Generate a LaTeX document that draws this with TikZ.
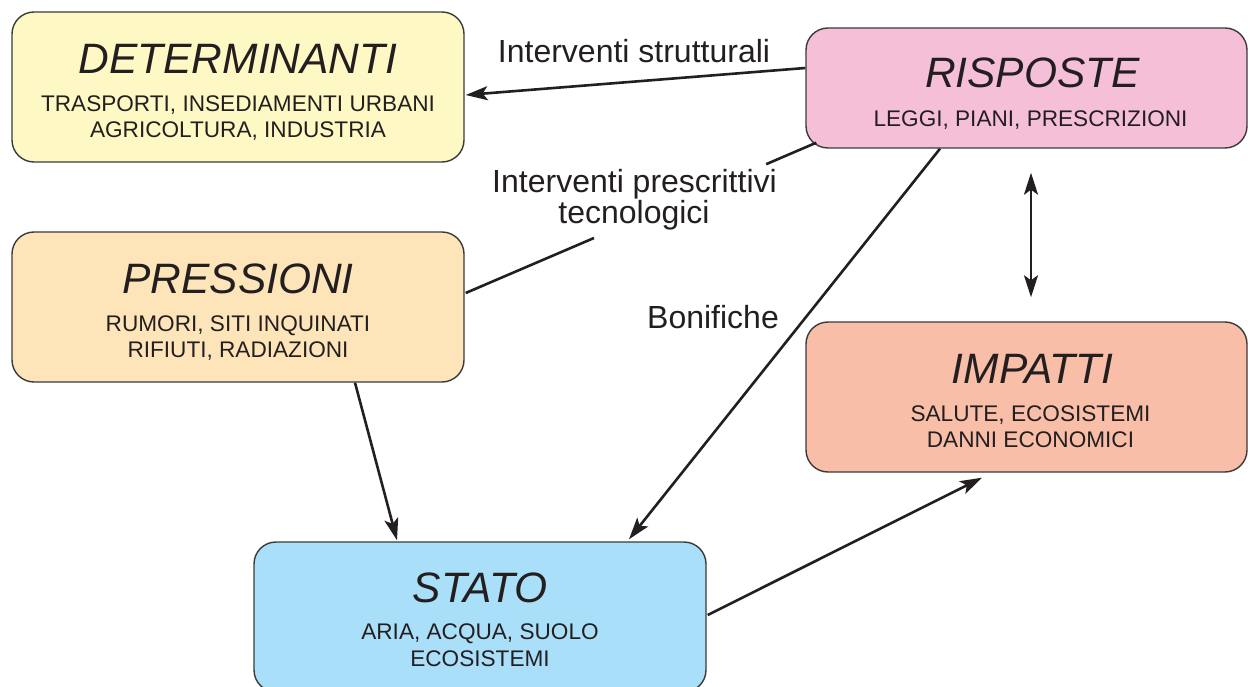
\documentclass[tikz,border=0pt]{standalone}
\usepackage{fontspec}
\setmainfont{Liberation Sans}
\usetikzlibrary{arrows.meta,calc}
\definecolor{ink}{HTML}{231F20}
\definecolor{boxline}{HTML}{3A3A3A}
\definecolor{cdet}{HTML}{FEF9C4}
\definecolor{cpre}{HTML}{FDE5B9}
\definecolor{cris}{HTML}{F6BFD8}
\definecolor{cimp}{HTML}{F8BEA7}
\definecolor{csta}{HTML}{AADFF9}
\begin{document}
\begin{tikzpicture}[x=1pt,y=-1pt,
 box/.style={draw=boxline, line width=1.4pt, rounded corners=22pt, minimum width=452pt, minimum height=150pt, inner sep=0pt},
 ttl/.style={font=\fontsize{42.5}{42.5}\selectfont\itshape, text=ink, anchor=base, inner sep=0pt},
 sub/.style={font=\fontsize{22.6}{22.6}\selectfont, text=ink, anchor=base, inner sep=0pt},
 lbl/.style={font=\fontsize{32}{32}\selectfont, text=ink, anchor=base, inner sep=0pt},
 conn/.style={draw=ink, line width=2.6pt},
 arr/.style={conn, -{Stealth[length=22pt,width=14pt,inset=5pt]}},
 darr/.style={conn, {Stealth[length=22pt,width=14pt,inset=5pt]}-{Stealth[length=22pt,width=14pt,inset=5pt]}},
]
\useasboundingbox (0,0) rectangle (1248,687);
\clip (0,0) rectangle (1248,687);

% boxes
\node[box, fill=cdet] (det) at (238,87) {};
\node[box, fill=cpre] (pre) at (238,307) {};
\node[box, fill=cris, minimum width=441pt, minimum height=120pt] (ris) at (1026.5,88) {};
\node[box, fill=cimp, minimum width=441pt] (imp) at (1026.5,397) {};
\node[box, fill=csta] (sta) at (480,617) {};

% texts
\node[ttl] (detT) at ($(det.north)+(0,62)$) {DETERMINANTI};
\node[sub] (detA) at ($(det.north)+(0,100)$) {TRASPORTI, INSEDIAMENTI URBANI};
\node[sub] (detB) at ($(det.north)+(0,126)$) {AGRICOLTURA, INDUSTRIA};

\node[ttl] (preT) at ($(pre.north)+(0,62)$) {PRESSIONI};
\node[sub] (preA) at ($(pre.north)+(0,100)$) {RUMORI, SITI INQUINATI};
\node[sub] (preB) at ($(pre.north)+(0,126)$) {RIFIUTI, RADIAZIONI};

\node[ttl] (risT) at ($(ris.north)+(6,60)$) {RISPOSTE};
\node[sub] (risA) at ($(ris.north)+(4,99)$) {LEGGI, PIANI, PRESCRIZIONI};

\node[ttl] (impT) at ($(imp.north)+(6,62)$) {IMPATTI};
\node[sub] (impA) at ($(imp.north)+(4,100)$) {SALUTE, ECOSISTEMI};
\node[sub] (impB) at ($(imp.north)+(4,126)$) {DANNI ECONOMICI};

\node[ttl] (staT) at ($(sta.north)+(0,61)$) {STATO};
\node[sub] (staA) at ($(sta.north)+(0,98)$) {ARIA, ACQUA, SUOLO};
\node[sub] (staB) at ($(sta.north)+(0,125)$) {ECOSISTEMI};

% connector end points
\coordinate (c1s) at ($(ris.west)+(0,-20)$);
\coordinate (c1e) at ($(det.east)+(1,8)$);
\coordinate (c2s) at ($(ris.south west)+(11,-6)$);
\coordinate (c2e) at ($(pre.east)+(1,-14)$);
\coordinate (c3s) at ($(ris.south)+(-86.5,0)$);
\coordinate (c3e) at ($(sta.north)+(149,-2)$);
\coordinate (c4s) at ($(ris.south)+(4.5,24)$);
\coordinate (c4e) at ($(imp.north)+(4.5,-24)$);
\coordinate (c5s) at ($(pre.south)+(117,0)$);
\coordinate (c5e) at ($(sta.north)+(-83,-1)$);
\coordinate (c6s) at ($(sta.east)+(1,-2)$);
\coordinate (c6e) at ($(imp.south)+(-44.5,5)$);

% connectors
\draw[arr] (c1s) -- (c1e);
\draw[conn] (c2s) -- ($(c2s)!0.143!(c2e)$);
\draw[conn] ($(c2s)!0.634!(c2e)$) -- (c2e);
\draw[arr] (c3s) -- (c3e);
\draw[darr] (c4s) -- (c4e);
\draw[arr] (c5s) -- (c5e);
\draw[arr] (c6s) -- (c6e);

% labels
\node[lbl] (l1) at (634,63) {Interventi strutturali};
\node[lbl] (l2a) at (634.5,193) {Interventi prescrittivi};
\node[lbl] (l2b) at (634,224) {tecnologici};
\node[lbl] (l3) at (713,328) {Bonifiche};
\end{tikzpicture}
\end{document}
